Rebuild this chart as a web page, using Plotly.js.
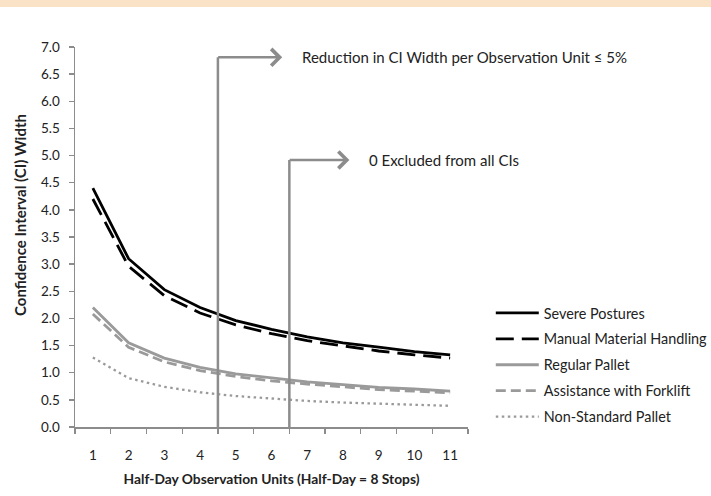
<!DOCTYPE html>
<html>
<head>
<meta charset="utf-8">
<script src="https://cdn.plot.ly/plotly-3.0.1.min.js"></script>
<style>
html,body{margin:0;padding:0;background:#fff;}
#band{position:absolute;left:0;top:0;width:711px;height:7px;background:#fae2c6;z-index:10;}
#chart{width:711px;height:496px;}
</style>
</head>
<body>
<div id="band"></div>
<div id="chart"></div>
<script>
const units = [1,2,3,4,5,6,7,8,9,10,11];
const severePostures = [4.40,3.10,2.53,2.20,1.96,1.80,1.66,1.55,1.47,1.39,1.33];
const manualHandling = [4.20,2.96,2.42,2.10,1.88,1.72,1.59,1.49,1.40,1.33,1.27];
const regularPallet = [2.20,1.55,1.27,1.10,0.98,0.90,0.83,0.78,0.73,0.70,0.66];
const forkliftAssist = [2.08,1.47,1.20,1.04,0.93,0.85,0.79,0.74,0.69,0.66,0.63];
const nonStandard = [1.28,0.90,0.74,0.64,0.57,0.52,0.48,0.45,0.43,0.40,0.39];
const seriesNames = ["Severe Postures","Manual Material Handling","Regular Pallet","Assistance with Forklift","Non-Standard Pallet"];
const markerLines = [4.5, 6.5];
const markerLabels = ["Reduction in CI Width per Observation Unit \u2264 5%","0 Excluded from all CIs"];
const markerLevels = [6.81, 4.92];
const yTicks = [0,0.5,1,1.5,2,2.5,3,3.5,4,4.5,5,5.5,6,6.5,7];

const font = "Lato, 'Open Sans', sans-serif";
const styles = [
  {color:"#000000", width:2.8, dash:"solid"},
  {color:"#000000", width:2.8, dash:"18px,8px"},
  {color:"#9a9a9a", width:2.8, dash:"solid"},
  {color:"#9a9a9a", width:2.8, dash:"10px,5px"},
  {color:"#9a9a9a", width:2.3, dash:"2.5px,3.5px"}
];
const allSeries = [severePostures, manualHandling, regularPallet, forkliftAssist, nonStandard];
const traces = allSeries.map((ys,i)=>({
  x: units, y: ys, type:"scatter", mode:"lines", name: seriesNames[i],
  legendgroup: "g"+i,
  line: styles[i]
}));

const shapes = markerLines.map((xv,i)=>({
  type:"line", xref:"x", yref:"y", x0:xv, x1:xv, y0:0, y1:markerLevels[i],
  line:{color:"#8c8c8c", width:2.5}
}));
const arrowLen = [1.8, 1.68];
const annotations = [];
markerLines.forEach((xv,i)=>{
  annotations.push({
    xref:"x", yref:"y", axref:"x", ayref:"y",
    x: xv+arrowLen[i], y: markerLevels[i], ax: xv-0.035, ay: markerLevels[i],
    showarrow:true, arrowhead:4, arrowsize:1.3, arrowwidth:2.5, arrowcolor:"#8c8c8c", text:""
  });
  annotations.push({
    xref:"x", yref:"y", x: xv+arrowLen[i]+0.5, y: markerLevels[i], xanchor:"left", yanchor:"middle",
    text: markerLabels[i], showarrow:false, font:{family:font, size:15, color:"#222"}
  });
});
annotations.push({
  xref:"paper", yref:"paper", x:-0.14, y:0.558, xanchor:"center", yanchor:"middle",
  textangle:-90, showarrow:false,
  text:"<b>Confidence Interval (CI) Width</b>", font:{family:font, size:15, color:"#222"}
});

const layout = {
  width:711, height:496,
  margin:{l:75, r:243, t:47, b:69, autoexpand:false},
  paper_bgcolor:"#fff", plot_bgcolor:"#fff",
  font:{family:font, size:13, color:"#222"},
  showlegend:true,
  legend:{x:1.058, xanchor:"left", y:0.342, yanchor:"top", tracegroupgap:4.2, itemwidth:43,
          traceorder:"grouped", font:{family:font, size:14.4, color:"#222"}, bgcolor:"rgba(0,0,0,0)"},
  xaxis:{
    range:[0.5,11.5], tickmode:"array", tickvals:units, ticktext:units.map(String),
    ticks:"", ticklabelstandoff:15, showgrid:false, zeroline:false,
    showline:true, linecolor:"#8c8c8c", linewidth:1.5,
    tickfont:{family:font, size:13.5, color:"#222"},
    minor:{tickmode:"array", tickvals:[0.5,1.5,2.5,3.5,4.5,5.5,6.5,7.5,8.5,9.5,10.5,11.5], ticks:"outside", ticklen:5, tickcolor:"#8c8c8c", tickwidth:1.3, showgrid:false},
    title:{text:"<b>Half-Day Observation Units (Half-Day = 8 Stops)</b>", font:{family:font, size:13.8, color:"#222"}, standoff:12}
  },
  yaxis:{
    range:[0,7], tickmode:"array", tickvals:yTicks, ticktext:yTicks.map(v=>v.toFixed(1)),
    ticks:"outside", ticklen:5, tickcolor:"#8c8c8c", tickwidth:1.3, ticklabelstandoff:6,
    showgrid:false, zeroline:false, showline:true, linecolor:"#8c8c8c", linewidth:1.5,
    tickfont:{family:font, size:13.5, color:"#222"},
    title:{text:""}
  },
  shapes: shapes,
  annotations: annotations
};
Plotly.newPlot("chart", traces, layout, {displayModeBar:false, staticPlot:true});
</script>
</body>
</html>
